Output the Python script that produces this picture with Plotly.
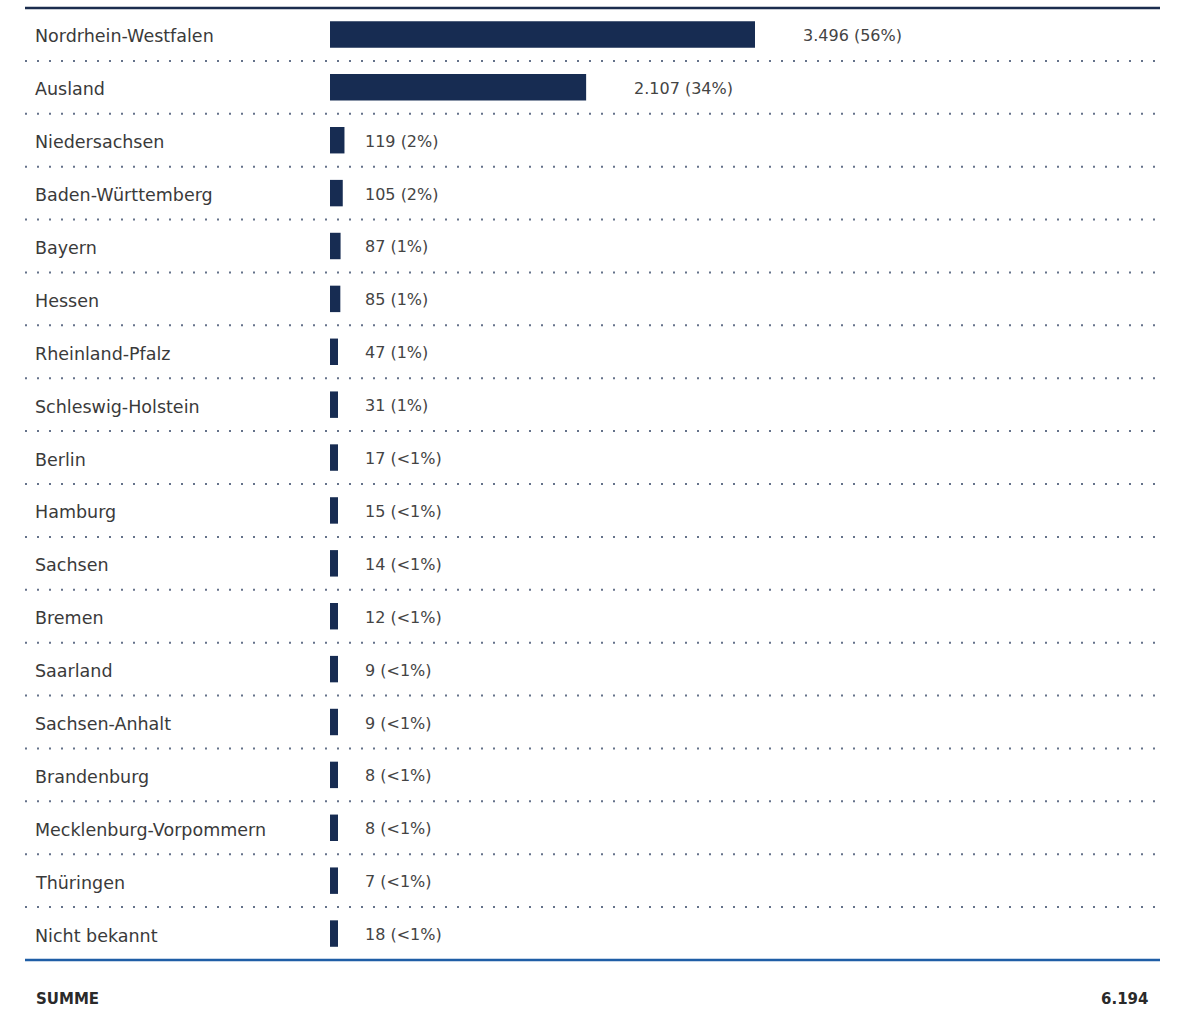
import plotly.graph_objects as go

regions = ["Nordrhein-Westfalen", "Ausland", "Niedersachsen", "Baden-Württemberg", "Bayern",
           "Hessen", "Rheinland-Pfalz", "Schleswig-Holstein", "Berlin", "Hamburg", "Sachsen",
           "Bremen", "Saarland", "Sachsen-Anhalt", "Brandenburg", "Mecklenburg-Vorpommern",
           "Thüringen", "Nicht bekannt"]
counts = [3496, 2107, 119, 105, 87, 85, 47, 31, 17, 15, 14, 12, 9, 9, 8, 8, 7, 18]
sum_label = "SUMME"

W, H = 1180, 1011
total = sum(counts)


def de_num(n):
    return f"{n:,}".replace(",", ".")


def pct(n):
    p = round(n / total * 100)
    return "<1%" if p < 1 else f"{p}%"


value_labels = [f"{de_num(c)} ({pct(c)})" for c in counts]

# geometry
x_left_px = 330
x_max = 2 * max(counts)
ppu = (W - x_left_px) / x_max          # pixels per unit
min_bar = 8 / ppu                      # minimum visible bar length
disp = [max(c, min_bar) for c in counts]
text_x = [(d + 46 / ppu) if d * ppu > 60 else 33 / ppu for d in disp]

top_px, bot_px = 8, 960
y_top = 1 - top_px / H
y_bot = 1 - bot_px / H
n = len(regions)

bar_color = "#172c52"

fig = go.Figure(go.Bar(
    x=disp, y=list(range(n)), orientation="h",
    marker=dict(color=bar_color, line=dict(width=0)),
    width=0.5, hoverinfo="skip",
))

shapes = []
# dotted separators
for i in range(n - 1):
    shapes.append(dict(type="line", xref="paper", yref="y", x0=25 / W, x1=1160 / W,
                       y0=i + 0.5, y1=i + 0.5,
                       line=dict(color="#65728a", width=2, dash="2px,10px")))
# top / bottom rules
shapes.append(dict(type="line", xref="paper", yref="paper", x0=25 / W, x1=1160 / W,
                   y0=y_top, y1=y_top, line=dict(color="#1b2d4e", width=2.5)))
shapes.append(dict(type="line", xref="paper", yref="paper", x0=25 / W, x1=1160 / W,
                   y0=y_bot, y1=y_bot, line=dict(color="#1f5ea6", width=2.5)))

annotations = []
for i, (r, tx, vl) in enumerate(zip(regions, text_x, value_labels)):
    annotations.append(dict(xref="paper", yref="y", x=33 / W, y=i, text=r,
                            xanchor="left", yanchor="middle", showarrow=False, yshift=-2,
                            font=dict(family="DejaVu Sans", size=17.5, color="#3a3a3a")))
    annotations.append(dict(xref="x", yref="y", x=tx, y=i, text=vl,
                            xanchor="left", yanchor="middle", showarrow=False, yshift=-1,
                            font=dict(family="DejaVu Sans", size=16, color="#444444")))

sum_y = 1 - 999 / H
annotations.append(dict(xref="paper", yref="paper", x=34 / W, y=sum_y, text=f"<b>{sum_label}</b>",
                        xanchor="left", yanchor="middle", showarrow=False,
                        font=dict(family="DejaVu Sans", size=15, color="#2a2a2a")))
annotations.append(dict(xref="paper", yref="paper", x=1150 / W, y=sum_y, text=f"<b>{de_num(total)}</b>",
                        xanchor="right", yanchor="middle", showarrow=False,
                        font=dict(family="DejaVu Sans", size=15, color="#2a2a2a")))

fig.update_layout(
    width=W, height=H,
    margin=dict(l=0, r=0, t=0, b=0),
    paper_bgcolor="white", plot_bgcolor="white",
    showlegend=False,
    xaxis=dict(domain=[x_left_px / W, 1], range=[0, x_max], visible=False, fixedrange=True),
    yaxis=dict(domain=[y_bot, y_top], range=[n - 0.5, -0.5], visible=False, fixedrange=True),
    shapes=shapes, annotations=annotations,
)

fig.write_html("out.html")
